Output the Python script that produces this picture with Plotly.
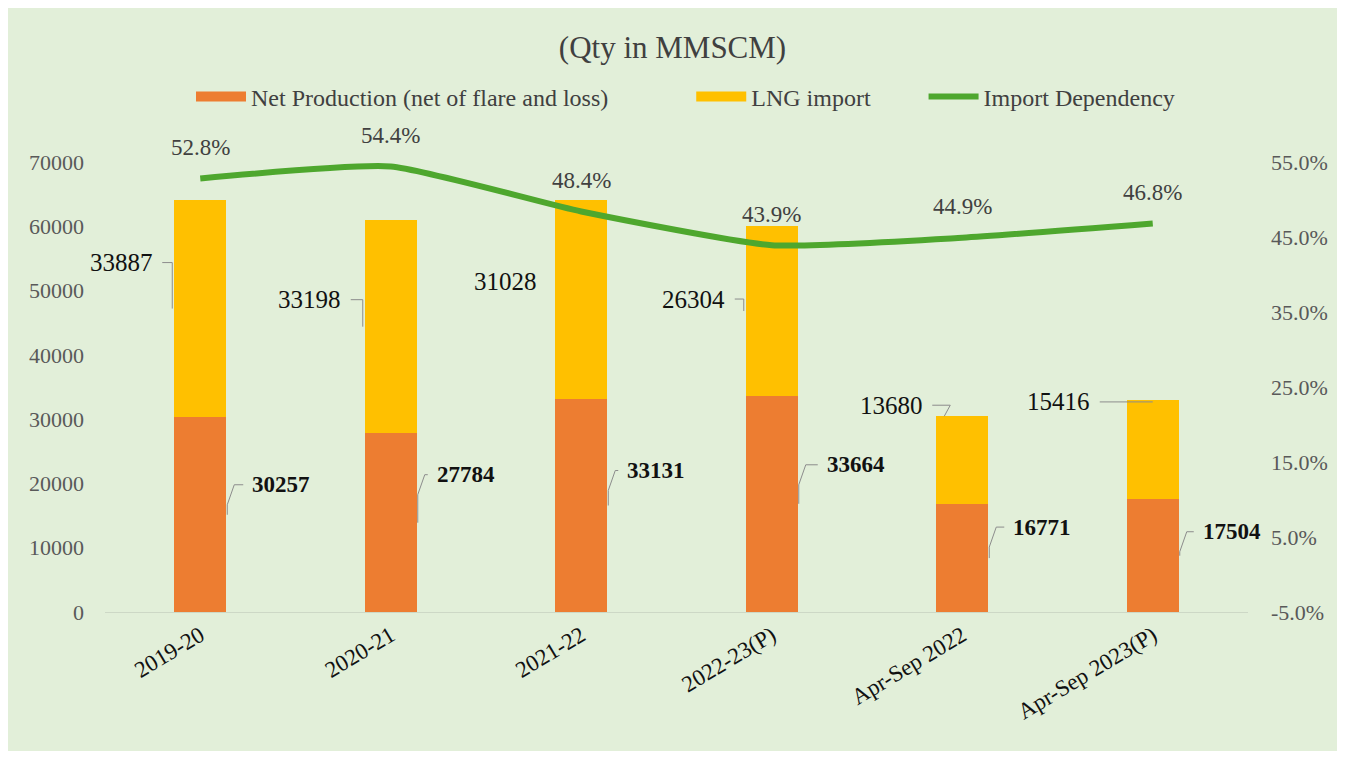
import plotly.graph_objects as go

# ---------------- data ----------------
categories = ["2019-20", "2020-21", "2021-22", "2022-23(P)", "Apr-Sep 2022", "Apr-Sep 2023(P)"]
net_production = [30257, 27784, 33131, 33664, 16771, 17504]
lng_import = [33887, 33198, 31028, 26304, 13680, 15416]
import_dependency = [52.8, 54.4, 48.4, 43.9, 44.9, 46.8]
left_ticks = [0, 10000, 20000, 30000, 40000, 50000, 60000, 70000]
right_ticks = [-5, 5, 15, 25, 35, 45, 55]
series_names = ["Net Production (net of flare and loss)", "LNG import", "Import Dependency"]

# ---------------- style ----------------
BG = "#e2efd9"
ORANGE = "#ED7D31"
YELLOW = "#FFC000"
GREEN = "#4EA72E"
SERIF = "Liberation Serif"
GRAY_TXT = "#404040"
NBSP = "\u00a0"

# page body has an 8px margin, so the figure is sized to fit inside it
W, H = 1329, 743
ML, MR, MT, MB = 97, 89, 154, 139
PW, PH = W - ML - MR, H - MT - MB

# label offsets (pixels, dx right, dy down) relative to segment midpoint
lng_label_off = [(-79, -46), (-81, -27), (-76, -18), (-78, -12), (-71, -55), (-94, -48)]
net_label_off = [(81, -30), (75, -48), (75, -35), (84, -39), (80, -31), (79, -24)]
lng_leader = [True, True, False, True, "top", "top"]
LNG_HALF = 33
NET_HALF = 30
BAR_HALF = 26
LEADER = dict(color="#8c8c8c", width=1)
legend_pad = [13, 8, 0]

fig = go.Figure()
fig.add_trace(go.Bar(x=categories, y=net_production, name=series_names[0], showlegend=False,
                     marker=dict(color=ORANGE, line=dict(width=0))))
fig.add_trace(go.Bar(x=categories, y=lng_import, name=series_names[1], showlegend=False,
                     marker=dict(color=YELLOW, line=dict(width=0))))
fig.add_trace(go.Scatter(x=categories, y=import_dependency, name=series_names[2], yaxis="y2",
                         mode="lines", showlegend=False,
                         line=dict(color=GREEN, width=6, shape="spline", smoothing=0.5)))
# legend entries (wide swatches like the original)
for name, color, width, pad in zip(series_names, [ORANGE, YELLOW, GREEN], [12, 12, 6], legend_pad):
    fig.add_trace(go.Scatter(x=[None], y=[None], mode="lines", name=name + NBSP * pad,
                             line=dict(color=color, width=width), hoverinfo="skip"))

annotations = []
shapes = []

px_per_unit = PH / 70000.0
for i, c in enumerate(categories):
    n, l = net_production[i], lng_import[i]
    # LNG labels (left of bar)
    lmid = n + l / 2
    dx, dy = lng_label_off[i]
    annotations.append(dict(x=i, y=lmid, xref="x", yref="y", text=str(l), showarrow=False,
                            xshift=dx, yshift=-dy, font=dict(family=SERIF, size=25, color="#111111")))
    if lng_leader[i] is True:
        path = f"M {dx + LNG_HALF + 8},{-dy} L {-BAR_HALF - 2},{-dy} L {-BAR_HALF - 2},0"
        shapes.append(dict(type="path", xref="x", yref="y", xsizemode="pixel", ysizemode="pixel",
                           xanchor=i, yanchor=lmid, path=path, line=LEADER))
    elif lng_leader[i] == "top":
        top = n + l
        ty = -dy - (l / 2) * px_per_unit  # label offset relative to bar top
        if i == 5:
            path = f"M {dx + LNG_HALF + 8},{ty} L {0},{ty}"
        else:
            path = f"M {dx + LNG_HALF + 8},{ty} L {dx + LNG_HALF + 26},{ty} L {-BAR_HALF + 8},0"
        shapes.append(dict(type="path", xref="x", yref="y", xsizemode="pixel", ysizemode="pixel",
                           xanchor=i, yanchor=top, path=path, line=LEADER))
    # Net production labels (right of bar)
    nmid = n / 2
    dx, dy = net_label_off[i]
    annotations.append(dict(x=i, y=nmid, xref="x", yref="y", text=f"<b>{n}</b>", showarrow=False,
                            xshift=dx, yshift=-dy, font=dict(family=SERIF, size=23, color="#111111")))
    path = f"M {dx - NET_HALF - 8},{-dy} L {BAR_HALF + 8},{-dy} L {BAR_HALF + 1},{-dy - 20} L {BAR_HALF + 1},0"
    shapes.append(dict(type="path", xref="x", yref="y", xsizemode="pixel", ysizemode="pixel",
                       xanchor=i, yanchor=nmid, path=path, line=LEADER))
    # percentage labels
    annotations.append(dict(x=i, y=import_dependency[i], xref="x", yref="y2",
                            text=f"{import_dependency[i]:.1f}%", showarrow=False, yshift=31,
                            font=dict(family=SERIF, size=23, color=GRAY_TXT)))

fig.update_layout(
    width=W, height=H,
    margin=dict(l=ML, r=MR, t=MT, b=MB, autoexpand=False),
    paper_bgcolor=BG,
    plot_bgcolor="rgba(0,0,0,0)",
    barmode="stack",
    bargap=0.726,
    title=dict(text="(Qty in MMSCM)", x=0.5, xanchor="center", y=1 - 39 / H, yanchor="middle",
               font=dict(family=SERIF, size=31, color=GRAY_TXT)),
    legend=dict(orientation="h", x=(183 - ML) / PW, xanchor="left", y=(PH + MT - 89) / PH, yanchor="middle",
                font=dict(family=SERIF, size=24, color=GRAY_TXT), bgcolor="rgba(0,0,0,0)",
                itemwidth=50, traceorder="normal"),
    xaxis=dict(type="category", range=[-0.5, 5.5], autorange=False, tickangle=-31, showgrid=False,
               showline=True, linecolor="#cdd8c6", linewidth=1, ticks="",
               tickfont=dict(family=SERIF, size=23, color="#111111")),
    yaxis=dict(range=[0, 70000], autorange=False, tickvals=left_ticks, ticktext=[str(v) for v in left_ticks],
               showgrid=False, zeroline=False, ticklabelstandoff=20,
               tickfont=dict(family=SERIF, size=22, color="#595959")),
    yaxis2=dict(range=[-5, 55], autorange=False, overlaying="y", side="right", tickvals=right_ticks,
                ticktext=[f"{v:.1f}%" for v in right_ticks], showgrid=False, zeroline=False,
                ticklabelstandoff=22, tickfont=dict(family=SERIF, size=22, color="#595959")),
    annotations=annotations,
    shapes=shapes,
    showlegend=True,
)

fig.write_html("out.html")
